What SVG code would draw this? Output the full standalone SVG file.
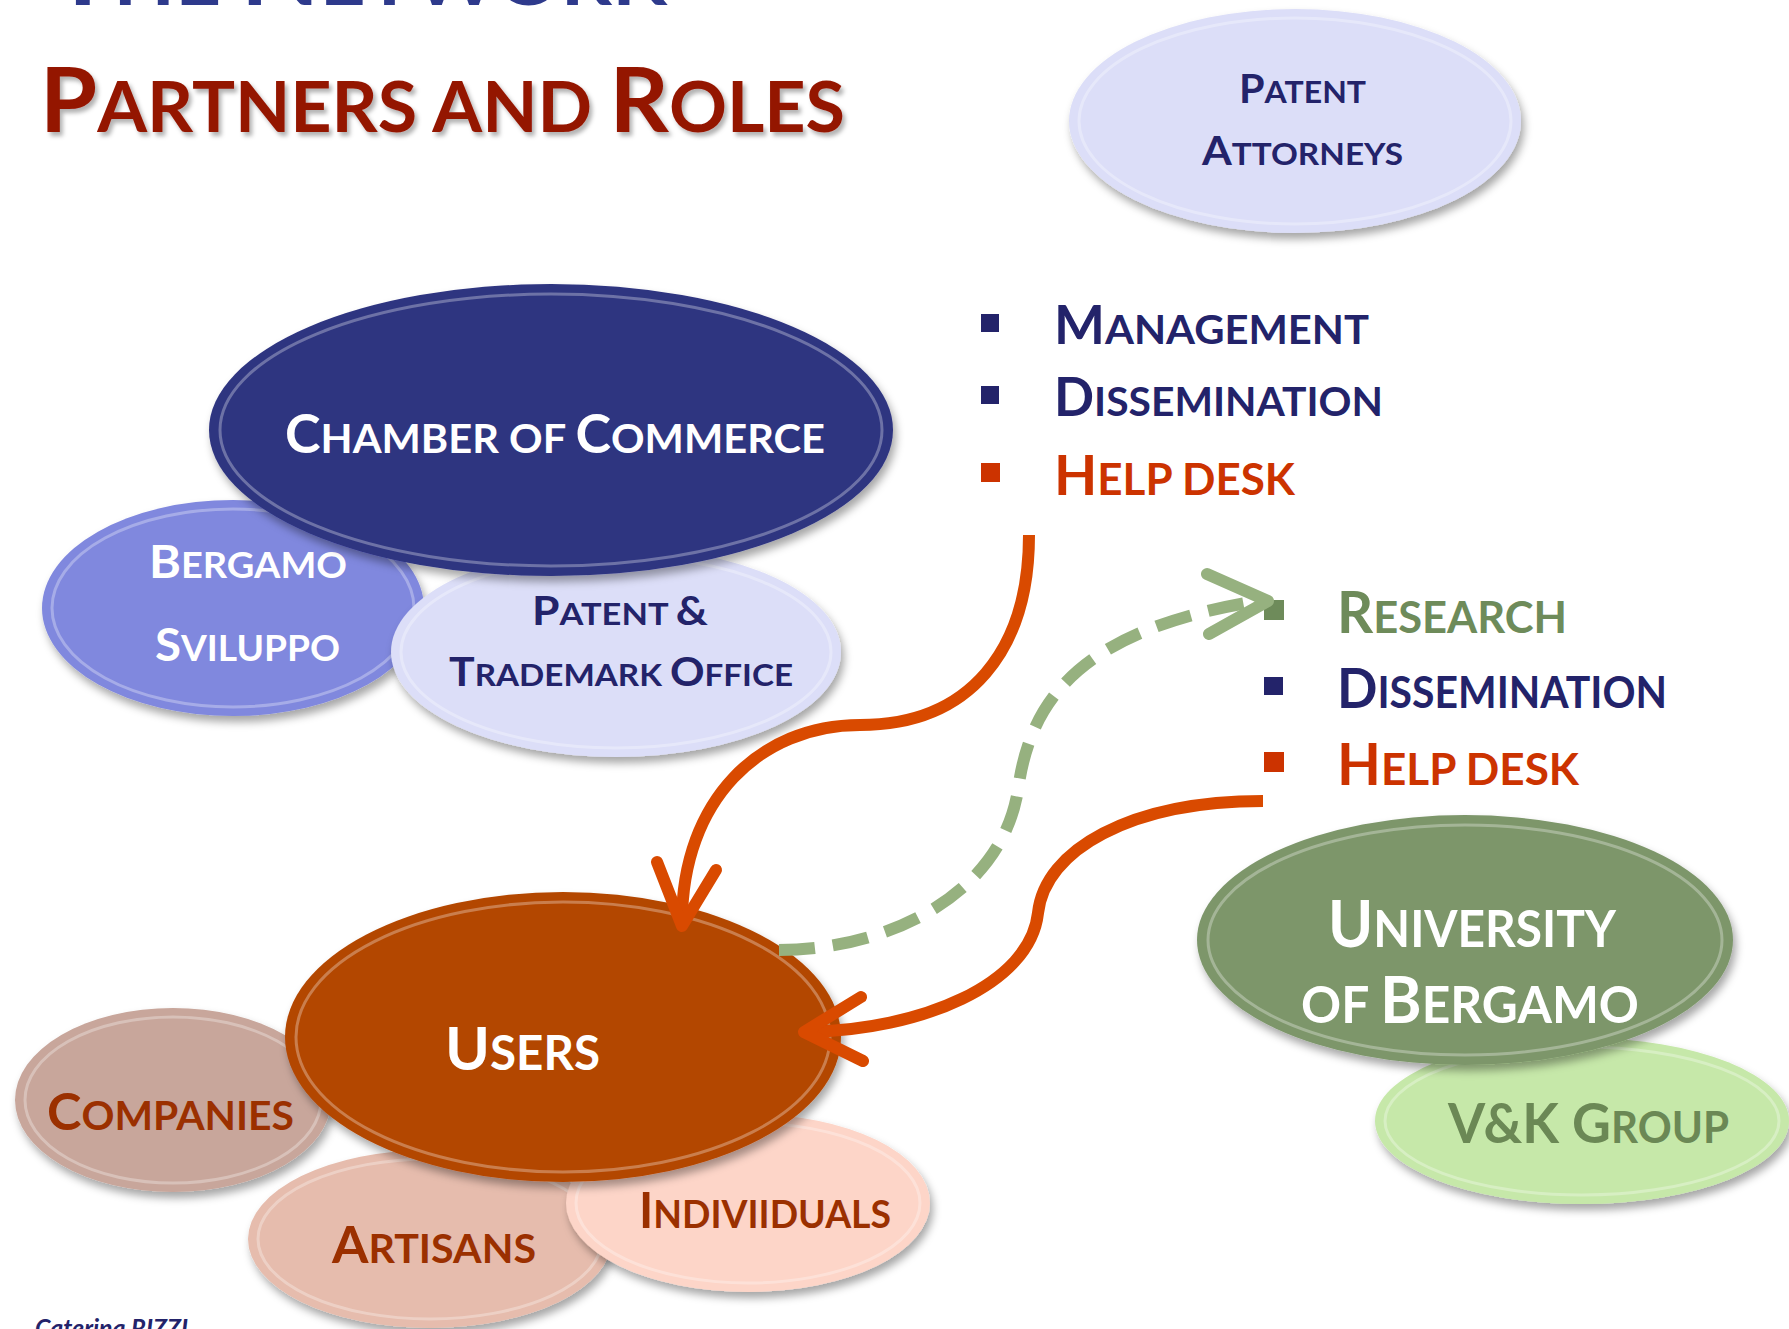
<svg xmlns="http://www.w3.org/2000/svg" width="1789" height="1329" viewBox="0 0 1789 1329">
<defs>
<filter id="sh" x="-20%" y="-20%" width="140%" height="150%">
<feDropShadow dx="3" dy="6" stdDeviation="4" flood-color="#000" flood-opacity="0.35"/>
</filter>
<filter id="tsh" x="-5%" y="-20%" width="110%" height="150%">
<feDropShadow dx="3" dy="4" stdDeviation="2" flood-color="#000" flood-opacity="0.3"/>
</filter>
<style>
text{font-family:Lato,"Open Sans","Liberation Sans",sans-serif;font-weight:700}
.base{filter:url(#sh)}
.ring{fill:none;stroke:#fff;stroke-opacity:0.3;stroke-width:3}
.w{fill:#fff}
.nv{fill:#23236a}
.br{fill:#9b3000}
.or{fill:#cc3300}
.gr{fill:#6e8b5a}
.conn{fill:none;stroke-width:12}
.ora{stroke:#d94a00}
.grn{stroke:#96b17f}
.head{fill:none;stroke-width:12;stroke-linecap:round;stroke-linejoin:round}
</style>
</defs>
<rect width="1789" height="1329" fill="#fff"/>

<g id="title">
<text x="52" y="5" fill="#2e3a8c" textLength="615" lengthAdjust="spacingAndGlyphs" font-size="90">T<tspan font-size="70">HE </tspan>N<tspan font-size="70">ETWORK</tspan></text>
<text x="40" y="132" fill="#941505" textLength="805" lengthAdjust="spacingAndGlyphs" font-size="90" filter="url(#tsh)">P<tspan font-size="70">ARTNERS AND </tspan>R<tspan font-size="70">OLES</tspan></text>
</g>

<g id="patent-attorneys">
<ellipse class="base" cx="1295" cy="121" rx="226" ry="112" fill="#dcdef8"/>
<ellipse class="ring" cx="1295" cy="121" rx="216" ry="103"/>
<text class="nv" x="1239" y="103" font-size="40" textLength="127" lengthAdjust="spacingAndGlyphs">P<tspan font-size="31">ATENT</tspan></text>
<text class="nv" x="1202" y="165" font-size="40" textLength="201" lengthAdjust="spacingAndGlyphs">A<tspan font-size="31">TTORNEYS</tspan></text>
</g>

<g id="bergamo-sviluppo">
<ellipse class="base" cx="233" cy="608" rx="191" ry="108" fill="#8088de"/>
<ellipse class="ring" cx="233" cy="608" rx="181" ry="99"/>
<text class="w" x="149" y="578" font-size="46" textLength="198" lengthAdjust="spacingAndGlyphs">B<tspan font-size="36">ERGAMO</tspan></text>
<text class="w" x="155" y="661" font-size="46" textLength="185" lengthAdjust="spacingAndGlyphs">S<tspan font-size="36">VILUPPO</tspan></text>
</g>

<g id="patent-trademark-office">
<ellipse class="base" cx="616" cy="652" rx="225" ry="105" fill="#dcdef8"/>
<ellipse class="ring" cx="616" cy="652" rx="215" ry="96"/>
<text class="nv" x="532" y="625" font-size="40" textLength="176" lengthAdjust="spacingAndGlyphs">P<tspan font-size="31">ATENT </tspan>&amp;</text>
<text class="nv" x="449" y="686" font-size="40" textLength="344" lengthAdjust="spacingAndGlyphs">T<tspan font-size="31">RADEMARK </tspan>O<tspan font-size="31">FFICE</tspan></text>
</g>

<g id="chamber-of-commerce">
<ellipse class="base" cx="551" cy="430" rx="342" ry="146" fill="#2e3480"/>
<ellipse class="ring" cx="551" cy="430" rx="331" ry="136"/>
<text class="w" x="285" y="453" font-size="53" textLength="540" lengthAdjust="spacingAndGlyphs">C<tspan font-size="41">HAMBER OF </tspan>C<tspan font-size="41">OMMERCE</tspan></text>
</g>

<g id="list-chamber">
<rect x="981" y="314" width="18" height="18" fill="#23236a"/>
<text class="nv" x="1054" y="344" font-size="53" textLength="315" lengthAdjust="spacingAndGlyphs">M<tspan font-size="41">ANAGEMENT</tspan></text>
<rect x="981" y="386" width="18" height="18" fill="#23236a"/>
<text class="nv" x="1054" y="416" font-size="53" textLength="329" lengthAdjust="spacingAndGlyphs">D<tspan font-size="41">ISSEMINATION</tspan></text>
<rect x="981" y="463" width="19" height="19" fill="#cc3300"/>
<text class="or" x="1054" y="495" font-size="55" textLength="241" lengthAdjust="spacingAndGlyphs">H<tspan font-size="43">ELP DESK</tspan></text>
</g>

<g id="list-university">
<rect x="1264" y="600" width="20" height="20" fill="#6e8b5a"/>
<text class="gr" x="1337" y="633" font-size="57" textLength="230" lengthAdjust="spacingAndGlyphs">R<tspan font-size="44">ESEARCH</tspan></text>
<rect x="1264" y="677" width="19" height="18" fill="#23236a"/>
<text class="nv" x="1337" y="708" font-size="56" textLength="330" lengthAdjust="spacingAndGlyphs">D<tspan font-size="43">ISSEMINATION</tspan></text>
<rect x="1264" y="752" width="20" height="20" fill="#cc3300"/>
<text class="or" x="1337" y="785" font-size="57" textLength="242" lengthAdjust="spacingAndGlyphs">H<tspan font-size="44">ELP DESK</tspan></text>
</g>

<g id="vk-group">
<ellipse class="base" cx="1582" cy="1121" rx="207" ry="83" fill="#c6e8a9"/>
<ellipse class="ring" cx="1582" cy="1121" rx="197" ry="74"/>
<text x="1448" y="1143" fill="#6b8855" font-size="56" textLength="281" lengthAdjust="spacingAndGlyphs">V&amp;K G<tspan font-size="44">ROUP</tspan></text>
</g>

<g id="university-of-bergamo">
<ellipse class="base" cx="1465" cy="940" rx="268" ry="125" fill="#7d966b"/>
<ellipse class="ring" cx="1465" cy="940" rx="257" ry="115"/>
<text class="w" x="1328" y="947" font-size="65" textLength="288" lengthAdjust="spacingAndGlyphs">U<tspan font-size="51">NIVERSITY</tspan></text>
<text class="w" x="1301" y="1023" font-size="65" textLength="338" lengthAdjust="spacingAndGlyphs"><tspan font-size="51">OF </tspan>B<tspan font-size="51">ERGAMO</tspan></text>
</g>

<g id="companies">
<ellipse class="base" cx="173" cy="1100" rx="158" ry="92" fill="#c8a69b"/>
<ellipse class="ring" cx="173" cy="1100" rx="148" ry="83"/>
<text class="br" x="47" y="1130" font-size="51" textLength="247" lengthAdjust="spacingAndGlyphs">C<tspan font-size="40">OMPANIES</tspan></text>
</g>

<g id="artisans">
<ellipse class="base" cx="430" cy="1239" rx="182" ry="89" fill="#e6bcad"/>
<ellipse class="ring" cx="430" cy="1239" rx="172" ry="80"/>
<text class="br" x="332" y="1263" font-size="51" textLength="204" lengthAdjust="spacingAndGlyphs">A<tspan font-size="40">RTISANS</tspan></text>
</g>

<g id="individuals">
<ellipse class="base" cx="748" cy="1203" rx="182" ry="89" fill="#fdd5c8"/>
<ellipse class="ring" cx="748" cy="1203" rx="172" ry="80"/>
<text class="br" x="639" y="1228" font-size="49" textLength="252" lengthAdjust="spacingAndGlyphs">I<tspan font-size="38">NDIVIIDUALS</tspan></text>
</g>

<g id="users">
<ellipse class="base" cx="563" cy="1037" rx="278" ry="145" fill="#b34700"/>
<ellipse class="ring" cx="563" cy="1037" rx="267" ry="135"/>
<text class="w" x="445" y="1070" font-size="60" textLength="155" lengthAdjust="spacingAndGlyphs">U<tspan font-size="47">SERS</tspan></text>
</g>

<g id="connectors">
<path class="conn ora" d="M1029,535 C1029,650 970,725 860,725 C760,725 682,800 682,922"/>
<polyline class="head ora" points="657,862 682,926 716,870"/>
<path class="conn ora" d="M1263,801 C1130,801 1045,850 1038,913 C1030,985 920,1030 808,1032"/>
<polyline class="head ora" points="861,997 804,1032 863,1061"/>
<path class="conn grn" stroke-width="14" stroke-dasharray="36 18" d="M779,950 C880,950 1000,900 1018,790 C1030,700 1080,630 1258,601"/>
<polyline class="head grn" points="1207,574 1268,601 1209,634"/>
</g>

<g id="footer">
<text x="35" y="1337" fill="#23236a" font-size="24" font-style="italic" font-weight="400" textLength="153" lengthAdjust="spacingAndGlyphs">Caterina RIZZI</text>
</g>
</svg>
